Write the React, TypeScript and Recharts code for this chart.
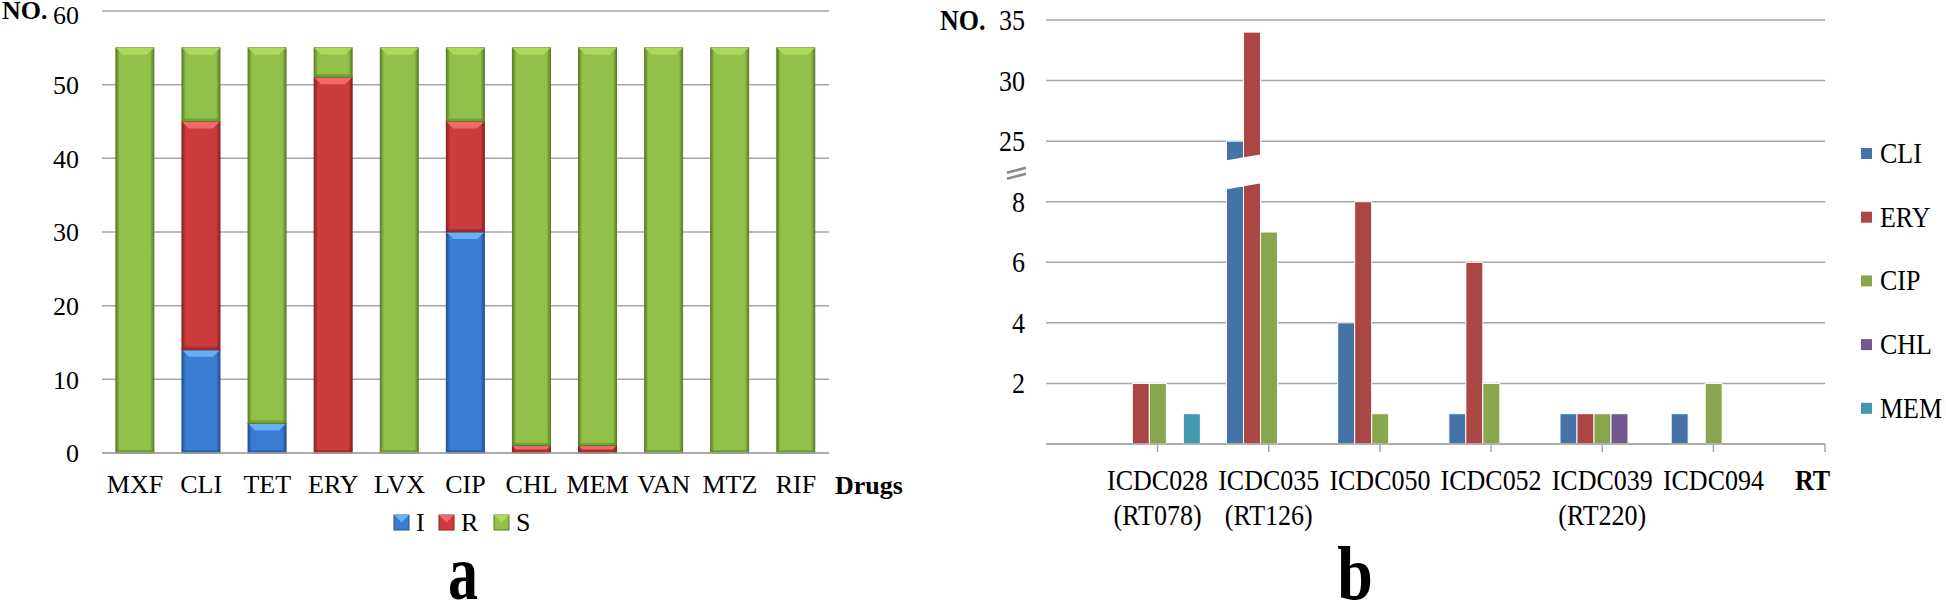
import React from "react";
import { BarChart, Bar, XAxis, YAxis, CartesianGrid } from "recharts";

const SERIF = '"Liberation Serif", "Times New Roman", serif';

// panel a: resistance profile per drug
const drugs = ["MXF", "CLI", "TET", "ERY", "LVX", "CIP", "CHL", "MEM", "VAN", "MTZ", "RIF"];
const intermediate = [0, 14, 4, 0, 0, 30, 0, 0, 0, 0, 0];
const resistant = [0, 31, 0, 51, 0, 15, 1, 1, 0, 0, 0];
const susceptible = [55, 10, 51, 4, 55, 10, 54, 54, 55, 55, 55];
const leftTicks = [0, 10, 20, 30, 40, 50, 60];

// panel b: resistant strains by ribotype
const strains = ["ICDC028 (RT078)", "ICDC035 (RT126)", "ICDC050", "ICDC052", "ICDC039 (RT220)", "ICDC094"];
const cli = [0, 25, 4, 1, 1, 1];
const ery = [2, 34, 8, 6, 1, 0];
const cip = [2, 7, 1, 2, 1, 2];
const chl = [0, 0, 0, 0, 1, 0];
const mem = [1, 0, 0, 0, 0, 0];
const rightTicks = [0, 2, 4, 6, 8, 25, 30, 35];

const leftSeries = [
  { key: "I", values: intermediate, base: "#3b7dd5", light: "#66b0f6", dark: "#22508c" },
  { key: "R", values: resistant, base: "#cd3c3c", light: "#f36868", dark: "#862020" },
  { key: "S", values: susceptible, base: "#91c149", light: "#acd95b", dark: "#5d7d28" },
];

const rightSeries = [
  { key: "CLI", values: cli, color: "#4572a7" },
  { key: "ERY", values: ery, color: "#aa4643" },
  { key: "CIP", values: cip, color: "#89a54e" },
  { key: "CHL", values: chl, color: "#71588f" },
  { key: "MEM", values: mem, color: "#4198af" },
];

// broken axis: 0..8 kept, 25..35 squeezed above it
const toDisplay = (v: number) => (v <= 8 ? v : 10 + (v - 25) * 0.4);

const leftData = drugs.map((drug, i) => {
  const row: Record<string, any> = { drug };
  leftSeries.forEach((s) => (row[s.key] = s.values[i]));
  return row;
});

const rightData = strains.map((strain, i) => {
  const row: Record<string, any> = { strain };
  rightSeries.forEach((s) => {
    row[s.key] = toDisplay(s.values[i]);
    row[s.key + "_raw"] = s.values[i];
  });
  return row;
});

const bevelShape = (c: { key: string; base: string; light: string; dark: string }) => (p: any) => {
  const { x, y, width: w, height: h } = p;
  if (!h || h <= 0) return <g />;
  const b = Math.min(7, h / 2, w / 2);
  const e = Math.min(3, w / 4);
  return (
    <g>
      <rect x={x} y={y} width={w} height={h} fill={`url(#grad-${c.key})`} stroke={c.dark} strokeWidth={1} />
      <polygon points={`${x},${y + h} ${x + e},${y + h - e} ${x + w - e},${y + h - e} ${x + w},${y + h}`} fill={c.dark} opacity={0.5} />
      <polygon points={`${x},${y} ${x + w},${y} ${x + w - b},${y + b} ${x + b},${y + b}`} fill={c.light} />
    </g>
  );
};

const brokenShape = (idx: number, key: string) => (p: any) => {
  const { x, y, width: w, height: h, fill, payload } = p;
  if (!h || h <= 0) return <g />;
  const raw = payload[key + "_raw"];
  const d = payload[key];
  const out = [<rect key="r" x={x} y={y} width={w} height={h} fill={fill} stroke="#fff" strokeWidth={1} />];
  if (raw > 8) {
    const ppu = h / d;
    const zero = y + h;
    const left = x - idx * w;
    const top = (xx: number) => zero - 9.37 * ppu - 0.17 * (xx - left);
    const bot = (xx: number) => zero - 8.41 * ppu - 0.17 * (xx - left);
    const x1 = x - 4;
    const x2 = x + w + 4;
    out.push(
      <polygon key="b" points={`${x1},${top(x1)} ${x2},${top(x2)} ${x2},${bot(x2)} ${x1},${bot(x1)}`} fill="#fff" />
    );
  }
  return <g>{out}</g>;
};

const RightXTick = (p: any) => {
  const { x, y, payload } = p;
  const [l1, l2] = String(payload.value).split(" ");
  return (
    <text transform={`translate(${x},${y}) scale(1,1.17)`} textAnchor="middle" fontFamily={SERIF} fontSize={26} fill="#000">
      <tspan x={0} y={38 / 1.17}>{l1}</tspan>
      {l2 && <tspan x={0} y={73 / 1.17}>{l2}</tspan>}
    </text>
  );
};

const RightYTick = (p: any) => {
  const { x, y, payload } = p;
  const i = rightTicks.map(toDisplay).indexOf(payload.value);
  const label = i > 0 ? String(rightTicks[i]) : "";
  return (
    <g>
      <text transform={`translate(${x},${y + 10}) scale(1,1.17)`} textAnchor="end" fontFamily={SERIF} fontSize={26} fill="#000">
        {label}
      </text>
      {payload.value === 8 && (
        <g stroke="#8a8a8a" strokeWidth={2.5}>
          <line x1={x - 18} y1={y - 29} x2={x + 1} y2={y - 34} />
          <line x1={x - 18} y1={y - 23} x2={x + 1} y2={y - 28} />
        </g>
      )}
    </g>
  );
};

function LeftChart() {
  return (
    <BarChart width={880} height={602} data={leftData} margin={{ top: 11, right: 51, left: 22, bottom: 109 }} barCategoryGap="21%">
      <defs>
        {leftSeries.map((s) => (
          <linearGradient key={s.key} id={`grad-${s.key}`} x1="0" y1="0" x2="1" y2="0">
            <stop offset="0%" stopColor={s.dark} />
            <stop offset="10%" stopColor={s.base} />
            <stop offset="90%" stopColor={s.base} />
            <stop offset="100%" stopColor={s.dark} />
          </linearGradient>
        ))}
      </defs>
      <CartesianGrid vertical={false} stroke="#a6a6a6" strokeWidth={1.5} />
      <XAxis
        dataKey="drug"
        interval={0}
        height={40}
        tickSize={0}
        tickMargin={22}
        tickLine={false}
        axisLine={{ stroke: "#a6a6a6", strokeWidth: 1.5 }}
        tick={{ fill: "#000", fontSize: 26, fontFamily: SERIF }}
      />
      <YAxis
        domain={[0, 60]}
        ticks={leftTicks}
        width={80}
        tickSize={0}
        tickMargin={23}
        axisLine={false}
        tickLine={false}
        tick={{ fill: "#000", fontSize: 26, fontFamily: SERIF }}
      />
      {leftSeries.map((s) => (
        <Bar key={s.key} dataKey={s.key} stackId="a" fill={s.base} shape={bevelShape(s)} isAnimationActive={false} />
      ))}
    </BarChart>
  );
}

function RightChart() {
  return (
    <BarChart width={1046} height={602} data={rightData} margin={{ top: 20, right: 121, left: 6, bottom: 98 }} barCategoryGap="12%" barGap={0}>
      <CartesianGrid vertical={false} stroke="#a6a6a6" strokeWidth={1.5} />
      <XAxis
        dataKey="strain"
        interval={0}
        height={60}
        padding={{ left: 56, right: 56 }}
        tickSize={8}
        tickMargin={0}
        tickLine={{ stroke: "#a6a6a6", strokeWidth: 1.5 }}
        axisLine={{ stroke: "#a6a6a6", strokeWidth: 1.5 }}
        tick={(p: any) => <RightXTick {...p} />}
      />
      <YAxis
        domain={[0, 14]}
        ticks={rightTicks.map(toDisplay)}
        width={140}
        tickSize={0}
        tickMargin={21}
        axisLine={false}
        tickLine={false}
        tick={(p: any) => <RightYTick {...p} />}
      />
      {rightSeries.map((s, i) => (
        <Bar key={s.key} dataKey={s.key} fill={s.color} shape={brokenShape(i, s.key)} isAnimationActive={false} />
      ))}
    </BarChart>
  );
}

function Overlay() {
  const leftLegendX = [394, 439, 494];
  return (
    <svg width={1946} height={602} style={{ position: "absolute", left: 0, top: 0, pointerEvents: "none" }} fontFamily={SERIF}>
      <text x={2} y={19} fontSize={26} fontWeight="bold">NO.</text>
      <text x={835} y={494} fontSize={26} fontWeight="bold">Drugs</text>
      {leftSeries.map((s, i) => (
        <g key={s.key}>
          <rect x={leftLegendX[i]} y={515} width={15} height={15} fill={s.base} stroke={s.dark} />
          <polygon points={`${leftLegendX[i]},${515} ${leftLegendX[i] + 15},${515} ${leftLegendX[i] + 7.5},${522.5}`} fill={s.light} />
          <text x={leftLegendX[i] + 22} y={531} fontSize={26}>{s.key}</text>
        </g>
      ))}
      <text transform="translate(463,599) scale(1,1.3)" textAnchor="middle" fontSize={60} fontWeight="bold">a</text>

      <text transform="translate(940,30) scale(1,1.17)" fontSize={26} fontWeight="bold">NO.</text>
      <text transform="translate(1795,490) scale(1,1.17)" fontSize={26} fontWeight="bold">RT</text>
      {/* closing tick at the end of the category axis */}
      <line x1={1825} y1={444} x2={1825} y2={452} stroke="#a6a6a6" strokeWidth={1.5} />
      {rightSeries.map((s, i) => (
        <g key={s.key}>
          <rect x={1861} y={148 + i * 63.7} width={11} height={11} fill={s.color} />
          <text transform={`translate(1880,${163 + i * 63.7}) scale(1,1.17)`} fontSize={26}>{s.key}</text>
        </g>
      ))}
      <text transform="translate(1355,599) scale(1,1.2)" textAnchor="middle" fontSize={64} fontWeight="bold">b</text>
    </svg>
  );
}

export default function App() {
  return (
    <div style={{ position: "relative", width: 1946, height: 602, overflow: "hidden", background: "#fff" }}>
      <style>{`body{margin:0}`}</style>
      <div style={{ position: "absolute", left: 0, top: 0 }}>
        <LeftChart />
      </div>
      <div style={{ position: "absolute", left: 900, top: 0 }}>
        <RightChart />
      </div>
      <Overlay />
    </div>
  );
}
